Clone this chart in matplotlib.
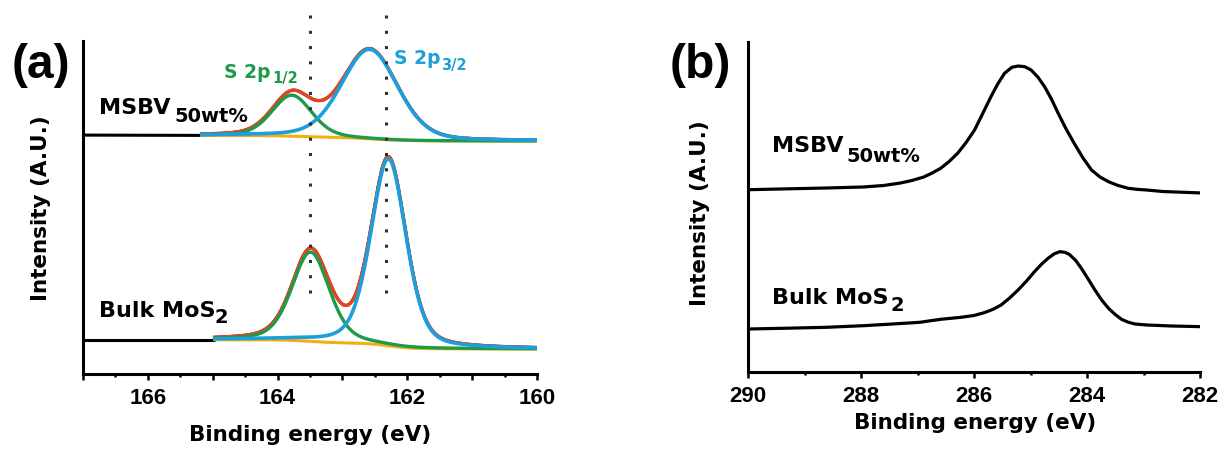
import numpy as np
import matplotlib
matplotlib.use('Agg')
import matplotlib.pyplot as plt
from matplotlib.ticker import MultipleLocator, FuncFormatter

plt.rcParams['font.family'] = ['Liberation Sans', 'DejaVu Sans']
plt.rcParams['font.weight'] = 'bold'

# ---------------- data ----------------
# Panel (a): S 2p fitted components, order = [S 2p1/2, S 2p3/2]
a_msbv_centers = [163.78, 162.58]
a_msbv_heights = [41.0, 89.5]
a_msbv_fwhm = [0.72, 1.02]
a_msbv_lfrac = [0.25, 0.25]
a_msbv_bg = [238.6, 233.0]          # background at fit start / fit end
a_msbv_range = [165.17, 160.0]
a_msbv_lead_e = [167.0, 165.17]      # raw data before fit window
a_msbv_lead_i = [238.9, 238.6]

a_bulk_centers = [163.49, 162.29]
a_bulk_heights = [89.2, 187.0]
a_bulk_fwhm = [0.68, 0.64]
a_bulk_lfrac = [0.34, 0.34]
a_bulk_bg = [34.3, 25.0]
a_bulk_range = [164.97, 160.0]
a_bulk_lead_e = [167.0, 164.97]
a_bulk_lead_i = [34.3, 34.3]

a_ref_lines = [163.5, 162.33]

# Panel (b): C 1s raw spectra
b_msbv_e = [290.00, 288.61, 287.96, 287.60, 287.30, 287.10, 286.89, 286.74,
            286.59, 286.44, 286.29, 286.14, 285.99, 285.85, 285.70, 285.58,
            285.46, 285.33, 285.22, 285.10, 284.99, 284.87, 284.75, 284.63,
            284.51, 284.37, 284.22, 284.07, 283.92, 283.77, 283.62, 283.45,
            283.27, 283.10, 282.94, 282.66, 281.96]
b_msbv_i = [182.3, 184.0, 185.0, 186.5, 189.0, 191.5, 195.0, 199.0,
            203.7, 210.5, 218.7, 229.5, 242.0, 258.0, 275.3, 288.0,
            298.7, 304.7, 306.0, 305.3, 302.0, 295.0, 285.3, 273.0,
            258.7, 243.0, 228.0, 214.0, 202.0, 195.0, 190.3, 186.5,
            183.7, 182.6, 182.0, 180.5, 179.0]

b_bulk_e = [290.00, 289.30, 288.61, 287.96, 287.50, 286.96, 286.59, 286.23,
            286.00, 285.82, 285.67, 285.52, 285.37, 285.22, 285.07, 284.93,
            284.81, 284.69, 284.58, 284.48, 284.39, 284.31, 284.20, 284.10,
            283.98, 283.86, 283.74, 283.62, 283.50, 283.39, 283.27, 283.15,
            282.94, 282.50, 281.96]
b_bulk_i = [43.0, 43.8, 44.7, 46.3, 47.8, 49.7, 52.7, 54.7,
            56.5, 59.3, 62.5, 67.0, 74.0, 82.0, 91.0, 100.3,
            107.5, 113.7, 118.2, 120.3, 119.7, 117.5, 111.5, 103.7,
            93.0, 82.0, 72.0, 63.7, 57.5, 52.7, 49.8, 48.0,
            47.0, 46.0, 45.3]

sample_labels = ["MSBV", "Bulk MoS"]
sample_subs = ["50wt%", "2"]
peak_labels = ["S 2p", "S 2p"]
peak_subs = ["1/2", "3/2"]

# ---------------- styling ----------------
W, H = 1220, 450
GREEN = '#1f9a4b'
BLUE = '#1c9fdc'
RED = '#e8431e'
ORANGE = '#f0b010'
TXT = 'DejaVu Sans'
NUM = 'Liberation Sans'

fig = plt.figure(figsize=(W / 100, H / 100), dpi=100)


def px(x, y):
    return x / W, 1 - y / H


def pv(e, c, h, w, l):
    d = (e - c) / w
    return h * ((1 - l) * np.exp(-4 * np.log(2) * d ** 2) + l / (1 + 4 * d ** 2))


def fit_curves(centers, heights, fwhm, lfrac, bg, erange):
    e = np.linspace(erange[0], erange[1], 800)
    comps = [pv(e, c, h, w, l) for c, h, w, l in zip(centers, heights, fwhm, lfrac)]
    total = comps[0] + comps[1]
    er = e[::-1]
    tr = total[::-1]
    cum = np.concatenate([[0.0], np.cumsum(0.5 * (tr[1:] + tr[:-1]) * np.diff(er))])
    frac = (cum / cum[-1])[::-1]
    bgc = bg[1] + (bg[0] - bg[1]) * frac
    return e, bgc, comps


def style_axes(ax):
    for s in ['top', 'right']:
        ax.spines[s].set_visible(False)
    for s in ['left', 'bottom']:
        ax.spines[s].set_linewidth(2.2)
    ax.set_yticks([])
    ax.tick_params(axis='x', which='major', direction='out', length=4, width=1.8,
                   pad=6, labelsize=16)
    ax.tick_params(axis='x', which='minor', direction='out', length=2, width=1.8)


# ---------------- panel (a) ----------------
axa = fig.add_axes([83 / W, 1 - 374 / H, 454 / W, 333 / H])
axa.set_xlim(167, 160)
axa.set_ylim(0, 333)

for (cen, hei, fw, lf, bg, rng, le, li) in [
        (a_msbv_centers, a_msbv_heights, a_msbv_fwhm, a_msbv_lfrac, a_msbv_bg,
         a_msbv_range, a_msbv_lead_e, a_msbv_lead_i),
        (a_bulk_centers, a_bulk_heights, a_bulk_fwhm, a_bulk_lfrac, a_bulk_bg,
         a_bulk_range, a_bulk_lead_e, a_bulk_lead_i)]:
    e, bgc, comps = fit_curves(cen, hei, fw, lf, bg, rng)
    env = bgc + comps[0] + comps[1]
    axa.plot(le, li, color='black', lw=2.2, solid_capstyle='butt')
    axa.plot(e, env, color='black', lw=2.2)
    axa.plot(e, bgc, color=ORANGE, lw=2.2)
    axa.plot(e, env, color=RED, lw=2.4)
    axa.plot(e, bgc + comps[0], color=GREEN, lw=2.4)
    axa.plot(e, bgc + comps[1], color=BLUE, lw=2.6)

for xv in a_ref_lines:
    axa.plot([xv, xv], [359, 79], color='#303030', lw=2.2,
             linestyle=(0, (1, 4.0)), dash_capstyle='butt', clip_on=False)

axa.xaxis.set_major_locator(MultipleLocator(1))
axa.xaxis.set_minor_locator(MultipleLocator(0.5))
axa.xaxis.set_major_formatter(FuncFormatter(
    lambda v, p: f"{int(round(v))}" if int(round(v)) % 2 == 0 else ""))
style_axes(axa)

# ---------------- panel (b) ----------------
axb = fig.add_axes([748 / W, 1 - 372 / H, 452 / W, 330 / H])
axb.set_xlim(290, 282)
axb.set_ylim(0, 330)
axb.plot(b_msbv_e, b_msbv_i, color='black', lw=2.3, solid_joinstyle='round')
axb.plot(b_bulk_e, b_bulk_i, color='black', lw=2.3, solid_joinstyle='round')
axb.xaxis.set_major_locator(MultipleLocator(2))
axb.xaxis.set_minor_locator(MultipleLocator(1))
axb.xaxis.set_major_formatter(FuncFormatter(lambda v, p: f"{int(round(v))}"))
style_axes(axb)

# ---------------- texts ----------------
def t(x, y, s, size, family=TXT, color='black', ha='left', va='baseline', rot=0):
    fig.text(*px(x, y), s, fontsize=size, fontfamily=family, fontweight='bold',
             color=color, ha=ha, va=va, rotation=rot)

t(12, 77.5, "(a)", 34.5, family=NUM)
t(670, 77.5, "(b)", 34.5, family=NUM)

t(310, 435, "Binding energy (eV)", 15.5, ha='center', va='center')
t(975, 423, "Binding energy (eV)", 15.5, ha='center', va='center')
t(41, 208, "Intensity (A.U.)", 15.5, ha='center', va='center', rot=90)
t(700, 213, "Intensity (A.U.)", 15.5, ha='center', va='center', rot=90)

# panel (a) sample labels
t(99, 113.6, sample_labels[0], 16)
t(174, 122, sample_subs[0], 14)
t(99, 316.6, sample_labels[1], 16)
t(215, 323.3, sample_subs[1], 14)
# panel (b) sample labels
t(772, 151.7, sample_labels[0], 16)
t(846, 161.7, sample_subs[0], 14)
t(772, 304, sample_labels[1], 16)
t(890, 310.7, sample_subs[1], 14)
# peak labels
t(224.5, 77.5, peak_labels[0], 13.5, color=GREEN)
t(272, 83.5, peak_subs[0], 10.5, color=GREEN)
t(394.3, 64, peak_labels[1], 13.5, color=BLUE)
t(441.5, 70, peak_subs[1], 10.5, color=BLUE)

fig.savefig('out.png', dpi=100)
